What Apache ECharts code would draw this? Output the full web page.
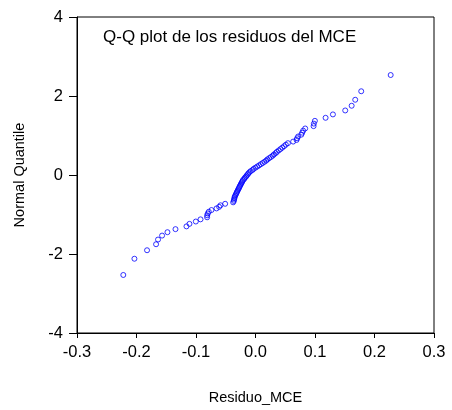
<!DOCTYPE html>
<html>
<head>
<meta charset="utf-8">
<script src="https://cdn.jsdelivr.net/npm/echarts@6/dist/echarts.min.js"></script>
<style>
  html, body { margin: 0; padding: 0; background: #fff; }
  #chart { width: 452px; height: 410px; }
</style>
</head>
<body>
<div id="chart"></div>
<script>
// residuos ordenados (eje x)
var residuos = [
  -0.2222, -0.2035, -0.1823, -0.1671, -0.1638, -0.1570, -0.1480, -0.1345, -0.1160, -0.1110,
  -0.1003, -0.0924, -0.0813, -0.0813, -0.0802, -0.0785, -0.0740, -0.0655, -0.0611, -0.0588,
  -0.0510, -0.0376, -0.0364, -0.0360, -0.0355, -0.0350, -0.0340, -0.0330, -0.0320, -0.0310,
  -0.0300, -0.0290, -0.0280, -0.0270, -0.0260, -0.0250, -0.0240, -0.0230, -0.0220, -0.0210,
  -0.0190, -0.0180, -0.0160, -0.0150, -0.0130, -0.0120, -0.0100, -0.0080, -0.0050, -0.0030,
  0.0000, 0.0030, 0.0060, 0.0090, 0.0120, 0.0150, 0.0180, 0.0200, 0.0230, 0.0260,
  0.0290, 0.0310, 0.0340, 0.0360, 0.0390, 0.0420, 0.0450, 0.0480, 0.0510, 0.0545,
  0.0633, 0.0690, 0.0700, 0.0717, 0.0770, 0.0785, 0.0801, 0.0835, 0.0976, 0.0981,
  0.0998, 0.1178, 0.1301, 0.1508, 0.1616, 0.1676, 0.1777, 0.2272
];

// cuantiles normales (eje y)
var cuantiles = [
  -2.531, -2.120, -1.905, -1.753, -1.634, -1.534, -1.448, -1.371, -1.301, -1.237,
  -1.178, -1.123, -1.071, -1.021, -0.975, -0.930, -0.887, -0.846, -0.806, -0.767,
  -0.729, -0.692, -0.657, -0.622, -0.587, -0.554, -0.521, -0.489, -0.457, -0.426,
  -0.395, -0.364, -0.334, -0.303, -0.274, -0.244, -0.215, -0.186, -0.157, -0.128,
  -0.100, -0.071, -0.043, -0.014, 0.014, 0.043, 0.071, 0.100, 0.128, 0.157,
  0.186, 0.215, 0.244, 0.274, 0.303, 0.334, 0.364, 0.395, 0.426, 0.457,
  0.489, 0.521, 0.554, 0.587, 0.622, 0.657, 0.692, 0.729, 0.767, 0.806,
  0.846, 0.887, 0.930, 0.975, 1.021, 1.071, 1.123, 1.178, 1.237, 1.301,
  1.371, 1.448, 1.534, 1.634, 1.753, 1.905, 2.120, 2.531
];

var puntos = residuos.map(function (x, i) { return [x, cuantiles[i]]; });

var myChart = echarts.init(document.getElementById('chart'));

var option = {
  animation: false,
  title: {
    text: 'Q-Q plot de los residuos del MCE',
    left: 103,
    top: 29,
    padding: 0,
    textStyle: { fontFamily: 'Arial, Liberation Sans', fontSize: 17, fontWeight: 'normal', color: '#000' }
  },
  grid: {
    left: 77, right: 18, top: 17, bottom: 76,
    show: true, borderColor: '#000', borderWidth: 1
  },
  xAxis: {
    type: 'value',
    min: -0.3, max: 0.3, interval: 0.1,
    name: 'Residuo_MCE',
    nameLocation: 'middle',
    nameGap: 57,
    nameTextStyle: { fontFamily: 'Arial, Liberation Sans', fontSize: 14.5, color: '#000' },
    axisLine: { show: true, onZero: false, lineStyle: { color: '#000', width: 1 } },
    axisTick: { show: true, length: 5, lineStyle: { color: '#000' } },
    axisLabel: {
      margin: 11,
      fontFamily: 'Arial, Liberation Sans', fontSize: 16.5, color: '#000',
      formatter: function (v) { return v.toFixed(1); }
    },
    splitLine: { show: false }
  },
  yAxis: {
    type: 'value',
    min: -4, max: 4, interval: 2,
    name: 'Normal Quantile',
    nameLocation: 'middle',
    nameGap: 50,
    nameTextStyle: { fontFamily: 'Arial, Liberation Sans', fontSize: 14.5, color: '#000' },
    axisLine: { show: true, onZero: false, lineStyle: { color: '#000', width: 1 } },
    axisTick: { show: true, length: 8, lineStyle: { color: '#000' } },
    axisLabel: {
      margin: 14,
      fontFamily: 'Arial, Liberation Sans', fontSize: 16.5, color: '#000'
    },
    splitLine: { show: false }
  },
  series: [{
    type: 'scatter',
    data: puntos,
    symbol: 'circle',
    symbolSize: 5,
    itemStyle: { color: 'rgba(0,0,0,0)', borderColor: '#0000ff', borderWidth: 1 }
  }]
};

myChart.setOption(option);
</script>
</body>
</html>
